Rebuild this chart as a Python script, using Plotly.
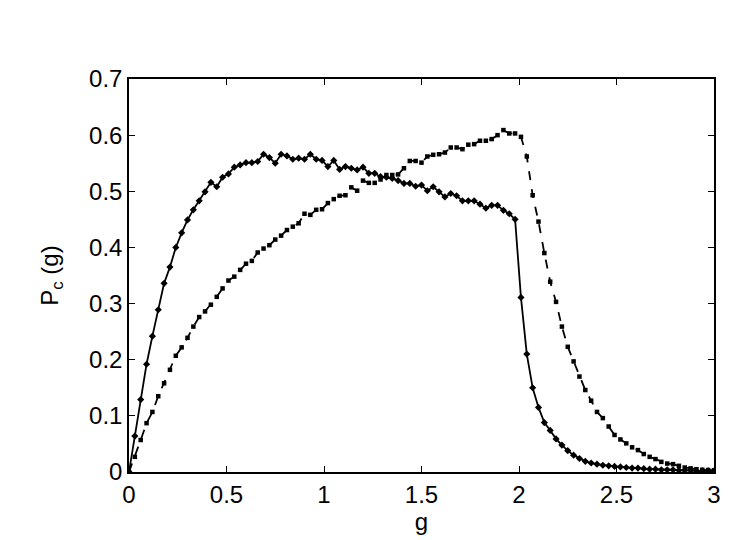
import numpy as np
import plotly.graph_objects as go

g_values = [round(0.03 * i, 2) for i in range(101)]

pc_solid = [
    0.000, 0.064, 0.129, 0.192, 0.242, 0.289, 0.336, 0.365, 0.400, 0.426,
    0.449, 0.467, 0.483, 0.499, 0.516, 0.508, 0.525, 0.531, 0.543, 0.547,
    0.551, 0.551, 0.553, 0.566, 0.560, 0.550, 0.566, 0.563, 0.557, 0.559,
    0.557, 0.566, 0.557, 0.555, 0.544, 0.555, 0.539, 0.544, 0.541, 0.538,
    0.543, 0.532, 0.532, 0.526, 0.525, 0.523, 0.519, 0.514, 0.514, 0.509,
    0.511, 0.501, 0.508, 0.499, 0.490, 0.496, 0.492, 0.483, 0.483, 0.483,
    0.477, 0.470, 0.475, 0.475, 0.466, 0.460, 0.450, 0.311, 0.210, 0.150,
    0.115, 0.088, 0.074, 0.059, 0.048, 0.038, 0.030, 0.024, 0.019, 0.016,
    0.014, 0.012, 0.011, 0.010, 0.009, 0.008, 0.007, 0.007, 0.006, 0.005,
    0.005, 0.004, 0.004, 0.004, 0.003, 0.003, 0.003, 0.002, 0.002, 0.002,
    0.002,
]

pc_dashed = [
    0.000, 0.027, 0.057, 0.087, 0.107, 0.135, 0.158, 0.182, 0.207, 0.222,
    0.239, 0.259, 0.276, 0.286, 0.298, 0.312, 0.327, 0.341, 0.348, 0.360,
    0.371, 0.376, 0.391, 0.398, 0.404, 0.414, 0.421, 0.431, 0.437, 0.443,
    0.460, 0.458, 0.467, 0.468, 0.479, 0.486, 0.492, 0.493, 0.507, 0.501,
    0.519, 0.515, 0.515, 0.521, 0.529, 0.529, 0.530, 0.541, 0.554, 0.554,
    0.551, 0.562, 0.565, 0.566, 0.569, 0.578, 0.578, 0.575, 0.583, 0.584,
    0.590, 0.590, 0.593, 0.600, 0.609, 0.603, 0.603, 0.597, 0.562, 0.493,
    0.446, 0.390, 0.339, 0.303, 0.259, 0.223, 0.197, 0.170, 0.146, 0.127,
    0.107, 0.096, 0.081, 0.066, 0.058, 0.051, 0.044, 0.039, 0.032, 0.027,
    0.023, 0.018, 0.015, 0.014, 0.011, 0.008, 0.0065, 0.005, 0.004, 0.0035,
    0.003,
]

x_ticks = [0, 0.5, 1, 1.5, 2, 2.5, 3]
x_tick_labels = ["0", "0.5", "1", "1.5", "2", "2.5", "3"]
y_ticks = [0, 0.1, 0.2, 0.3, 0.4, 0.5, 0.6, 0.7]
y_tick_labels = ["0", "0.1", "0.2", "0.3", "0.4", "0.5", "0.6", "0.7"]

fig = go.Figure()
fig.add_trace(go.Scatter(
    x=g_values, y=pc_dashed, mode="lines+markers",
    line=dict(color="black", width=1.8, dash="dash"),
    marker=dict(symbol="square", size=4.5, color="black"),
    showlegend=False,
))
fig.add_trace(go.Scatter(
    x=g_values, y=pc_solid, mode="lines+markers",
    line=dict(color="black", width=1.8),
    marker=dict(symbol="diamond", size=5.5, color="black"),
    showlegend=False,
))

font = dict(family="Liberation Sans, Arial, sans-serif", size=24, color="black")
axis_common = dict(
    showline=True, linecolor="black", linewidth=1.5, mirror="ticks",
    ticks="inside", ticklen=6, tickwidth=1.2, tickcolor="black",
    showgrid=False, zeroline=False, tickfont=font,
)
fig.update_xaxes(range=[0, 3], tickvals=x_ticks, ticktext=x_tick_labels,
                 title=dict(text="g", font=font, standoff=2), **axis_common)
fig.update_yaxes(range=[0, 0.7], tickvals=y_ticks, ticktext=y_tick_labels,
                 title=dict(text="P<sub>c</sub> (g)", font=font, standoff=24),
                 **axis_common)
fig.update_layout(
    width=736, height=540,
    margin=dict(l=121, r=30, t=71, b=76),
    plot_bgcolor="white", paper_bgcolor="white",
    font=font,
)
fig.write_html("out.html")
